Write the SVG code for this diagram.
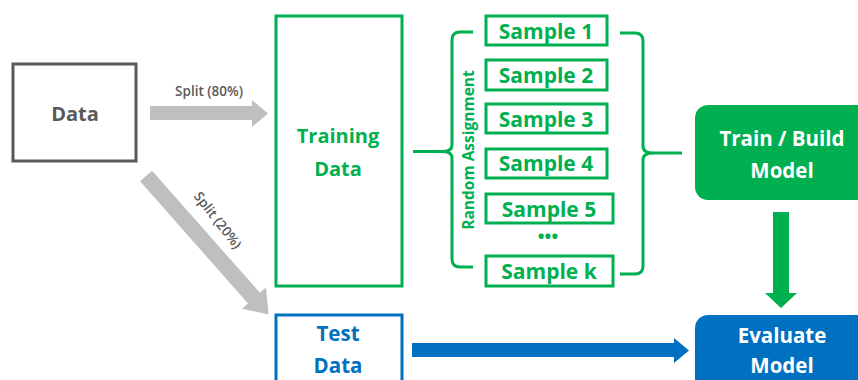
<svg xmlns="http://www.w3.org/2000/svg" width="858" height="380" viewBox="0 0 858 380">
<style>
text{font-family:"Open Sans","Liberation Sans",sans-serif;font-weight:bold;text-anchor:middle;dominant-baseline:central}
.g{fill:#00b050}.b{fill:#0070c0}.w{fill:#ffffff}.k{fill:#595959}
.gbox{fill:#fff;stroke:#00b050;stroke-width:3}
.samp{font-size:21px}
.lbl{font-size:13.5px;font-weight:600}
.gray{fill:#bfbfbf}
.brace{fill:none;stroke:#00b050;stroke-width:3;stroke-linejoin:round}
</style>
<rect width="858" height="380" fill="#fff"/>
<g id="data">
<rect x="13" y="64" width="123" height="97" fill="#fff" stroke="#595959" stroke-width="3"/>
<text x="75" y="113" class="k" font-size="20">Data</text>
</g>
<g id="training">
<rect x="276" y="16" width="126" height="270" class="gbox"/>
<text x="338" y="135" class="g" font-size="20">Training</text>
<text x="338" y="168" class="g" font-size="20">Data</text>
</g>
<g id="samples">
<g id="s1"><rect x="486" y="16" width="121" height="29" class="gbox"/><text x="546" y="31" class="g samp">Sample 1</text></g>
<g id="s2"><rect x="486" y="60" width="121" height="30" class="gbox"/><text x="546" y="75" class="g samp">Sample 2</text></g>
<g id="s3"><rect x="486" y="104" width="121" height="29" class="gbox"/><text x="546" y="119" class="g samp">Sample 3</text></g>
<g id="s4"><rect x="486" y="149" width="121" height="29" class="gbox"/><text x="546" y="163" class="g samp">Sample 4</text></g>
<g id="s5"><rect x="486" y="194" width="127" height="29" class="gbox"/><text x="549" y="209" class="g samp">Sample 5</text></g>
<text x="548" y="236" class="g" font-size="18">•••</text>
<g id="sk"><rect x="486" y="256" width="127" height="30" class="gbox"/><text x="549" y="271" class="g samp">Sample k</text></g>
</g>
<g id="train-model">
<rect x="695" y="105" width="175" height="95" rx="13" class="g"/>
<text x="782" y="138" class="w" font-size="20.5">Train / Build</text>
<text x="782" y="170" class="w" font-size="20.5">Model</text>
</g>
<g id="test">
<rect x="276" y="315" width="126" height="80" fill="#fff" stroke="#0070c0" stroke-width="3"/>
<text x="338" y="333" class="b" font-size="20.5">Test</text>
<text x="338" y="365" class="b" font-size="20.5">Data</text>
</g>
<g id="evaluate">
<rect x="695" y="315" width="175" height="90" rx="13" class="b"/>
<text x="782" y="335" class="w" font-size="20.5">Evaluate</text>
<text x="782" y="365" class="w" font-size="20.5">Model</text>
</g>
<g id="connectors">
<polygon class="gray" points="150,106 252,106 252,100 268,113.5 252,127 252,120 150,120"/>
<text x="209" y="91" class="k lbl">Split (80%)</text>
<g transform="translate(146,176) rotate(48.5)">
<polygon class="gray" points="0,-8 163,-8 163,-16 185,0 163,16 163,8 0,8"/>
</g>
<text x="218" y="220" class="k lbl" transform="rotate(52 218 220)">Split (20%)</text>
<path class="brace" d="M413,151.5 H442"/>
<path class="brace" d="M473,32 H460 Q452,32 452,40 V145 Q452,151.5 442,151.5 Q452,151.5 452,158 V259 Q452,267 460,267 H473"/>
<text x="468" y="150" class="g" font-size="15.5" transform="rotate(-90 468 150)">Random Assignment</text>
<path class="brace" d="M620,33 H635 Q643,33 643,41 V146 Q643,153 653,153 Q643,153 643,160 V266 Q643,274 635,274 H620"/>
<path class="brace" d="M653,153 H682"/>
<polygon class="g" points="773,212 789,212 789,293 797,293 781,308 765,293 773,293"/>
<polygon class="b" points="412,343 674,343 674,338 689,350.5 674,363 674,357 412,357"/>
</g>
</svg>
